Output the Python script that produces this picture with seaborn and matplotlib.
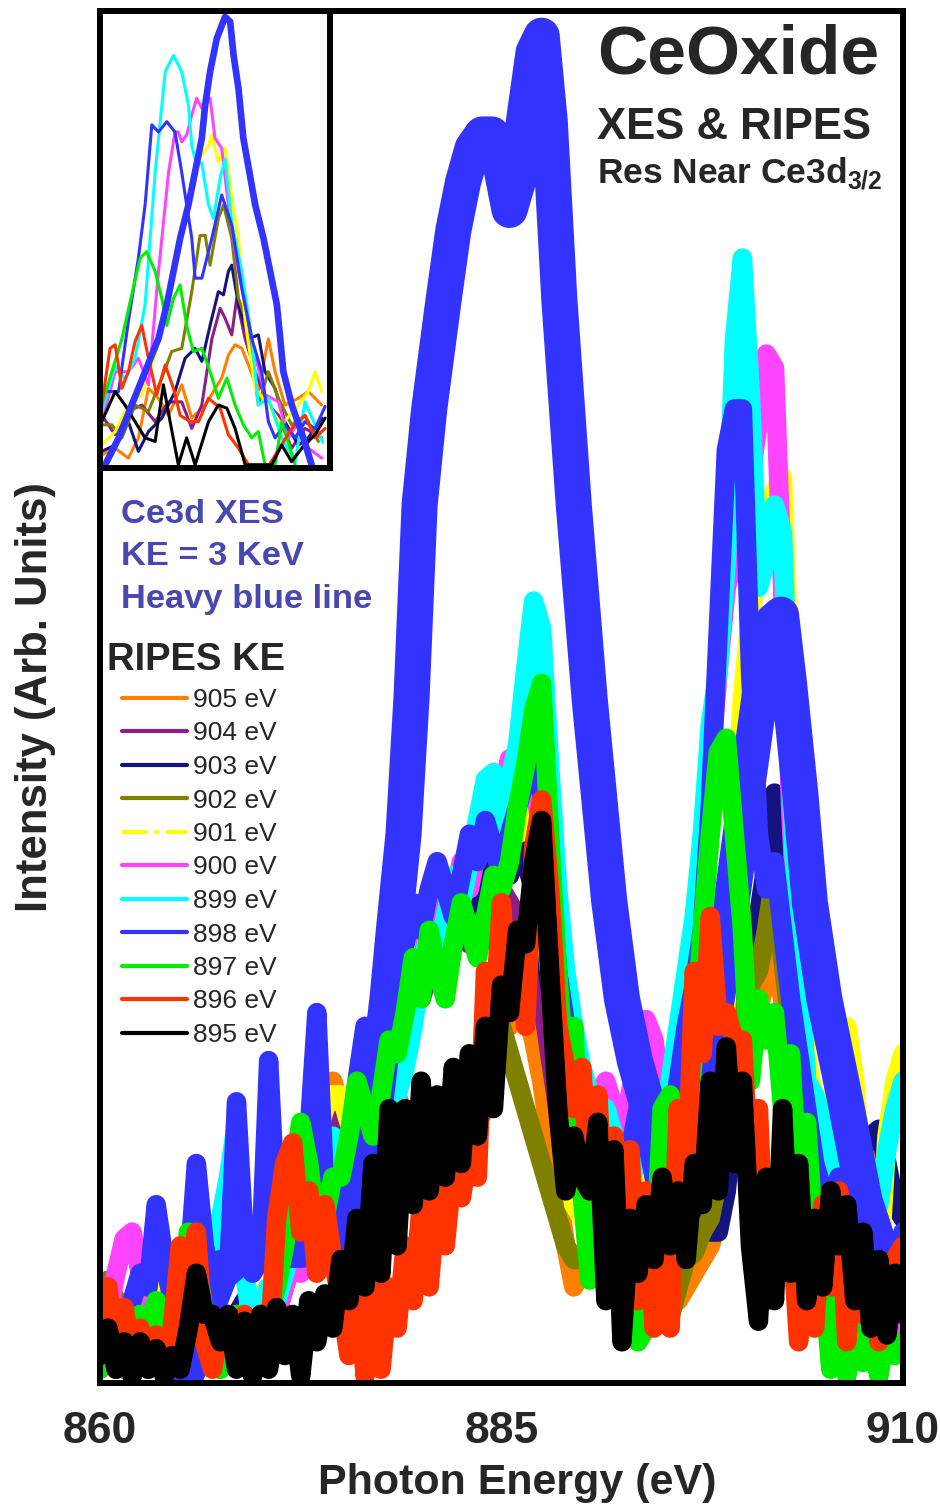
import numpy as np
import matplotlib
matplotlib.use("Agg")
import matplotlib.pyplot as plt
import seaborn as sns
from matplotlib.lines import Line2D

# ---------------- data ----------------
energy = np.arange(860, 910.01, 0.5)  # photon energy grid (eV), 101 points

ripes_895 = [2, 4, 1, 3, 0.5, 3, 1, 2.5, 0.5, 2,
             1, 4, 8, 5, 5, 3, 5, 1, 4.5, 0.5,
             5, 1, 5.5, 2, 5, 0.5, 6, 3, 6.5, 4,
             9, 6, 12, 7, 16, 8, 20, 10, 20, 13,
             22, 14, 21, 15, 23, 16, 24, 18, 26, 20,
             29, 27, 33, 32, 38, 41, 30, 20, 14, 18,
             15, 14, 19, 6, 17, 3, 12, 8, 13, 9,
             15, 10, 14, 9, 16, 13, 22, 14, 24.5, 16,
             22, 10, 4.5, 15, 6, 20, 8, 16, 6, 12,
             7, 14, 10, 13, 6, 11, 4, 9, 3.5, 8,
             5]
ripes_896 = [3, 7, 1, 5.5, 2, 4, 1, 3.5, 0.5, 4,
             10, 6, 11, 3, 1, 4, 4, 2, 5, 1,
             5, 2, 12, 16, 17.5, 11, 14, 8, 13, 9,
             6, 2, 9, 0.5, 8, 1, 7, 4, 10, 6,
             13, 7, 14, 10, 16, 13.5, 17, 15, 30, 26,
             35, 27, 33, 26, 39, 42.5, 36, 26, 23, 20,
             23, 14, 21, 10, 18, 12, 17, 6, 14, 4,
             10, 4, 20, 14, 30, 24, 34, 26, 27, 25,
             25, 14, 20, 6, 15, 8, 12, 3, 9, 4,
             13, 7, 14, 3, 10, 5, 8, 3, 7, 9,
             10]
ripes_897 = [1, 3, 2, 1, 3, 5, 4, 6, 5, 3,
             6, 11, 9, 5, 3, 1, 3, 5, 4, 2,
             3, 5, 7, 10, 15, 19, 16, 11, 12, 15,
             15, 18, 22, 20, 18, 21, 25, 24, 27, 31,
             28, 33, 30, 28, 32, 35, 33, 31, 34, 37,
             36, 38, 42, 45, 49, 51, 40, 30, 22, 26,
             14, 7.5, 16, 12, 9, 6, 8, 3, 4, 8,
             20, 21, 12, 16, 25, 33, 40, 46, 47, 40,
             33, 22, 28, 25, 27, 20, 24, 14, 19, 10,
             8, 1, 6, 0.5, 5, 1.5, 3, 0.5, 4, 2,
             3]
ripes_898 = [4, 3, 5, 4, 6, 8, 7, 13, 9, 6,
             5, 8, 16, 10, 7, 9, 8, 20.5, 10, 8,
             9, 23.5, 12, 9, 10, 14, 18, 27, 14, 11,
             14, 17, 22, 26, 24, 28, 33, 30, 32, 35,
             33, 36, 38, 36, 34, 37, 40, 38, 41, 39,
             37, 40, 42, 44, 45, 43, 37, 30, 26, 24,
             20, 17, 15, 18, 16, 14, 17, 20, 18, 15,
             14, 18, 22, 26, 29, 33, 42, 55, 68, 71,
             71, 52, 40, 36, 38, 33, 28, 24, 20, 16,
             14, 12, 15, 13, 10, 9, 11, 12, 10, 9,
             11]
ripes_899 = [5, 4, 2, 3, 5, 4, 2, 3, 4, 3,
             2, 4, 5, 6, 8, 12, 15, 19, 8, 4,
             5, 7, 6, 8, 10, 12, 14, 15, 16, 18,
             12, 14, 13, 15, 17, 16, 19, 21, 23, 26,
             30, 33, 31, 34, 37, 35, 38, 41, 44, 44.5,
             40, 44, 46.5, 52, 57, 55, 45, 36, 30, 26,
             23, 21, 19, 20, 18, 16, 15, 16, 18, 17,
             19, 22, 26, 30, 34, 40, 48, 52, 60, 76,
             82, 72, 58, 60, 64, 62, 45, 30, 22, 21,
             19, 17, 14, 12, 13, 12, 11, 13, 17, 20,
             22]
ripes_900 = [3, 5, 8, 10.5, 11, 8, 4, 3, 4, 6,
             5, 4, 5, 7, 5, 3, 2, 3, 3, 4,
             5, 6, 5, 7, 9, 8, 10, 12, 11, 13,
             16, 15, 18, 21, 20, 23, 26, 25, 28, 31,
             30, 34, 36, 33, 35, 38, 36, 39, 41, 39,
             43, 45.5, 43, 45, 44, 40, 34, 28, 24, 22,
             20, 19, 21, 22, 20, 18, 21, 24, 26.5, 25,
             20, 18, 22, 27, 32, 38, 45, 52, 58, 60,
             62, 66, 70, 75, 74, 58, 42, 30, 22, 18,
             14, 10, 7, 9, 12, 10, 8, 6, 5, 4,
             6]
ripes_901 = [2, 4, 3, 5, 6, 7.5, 8, 6, 4, 5,
             6, 4, 3, 5, 6, 4, 3, 4, 5, 6,
             6, 7, 8, 9, 11, 13, 15, 18, 20, 21,
             21, 19, 22, 25, 24, 27, 29, 28, 30, 32,
             31, 33, 35, 34, 36, 38, 37, 39, 41, 40,
             42, 41, 40, 42, 40, 36, 30, 24, 18, 13,
             12, 14, 12, 10, 9, 11, 13, 15, 14, 12,
             11, 9, 10, 12, 14, 16, 17, 20, 28, 40,
             50, 56, 60, 63, 65, 66, 50, 30, 24, 20,
             18, 20, 24, 26, 22, 14, 3, 8, 18, 22,
             24]
ripes_902 = [5, 7.5, 6, 4, 3, 5, 6, 4, 3, 2,
             4, 6, 7, 5, 4, 3, 2, 3, 2.5, 2,
             2, 3, 5, 7, 9, 11, 12, 14, 15, 16,
             17, 18, 17, 18, 19, 18, 19, 20, 19, 18,
             18, 19, 20, 19, 21, 22, 21, 23, 24, 25,
             26, 24, 22, 20, 18, 16, 14, 12, 10, 9,
             9, 10, 11, 10, 9, 9, 8, 7, 7, 6,
             5, 4.8, 7, 9, 9.5, 11, 12, 15, 20, 24,
             27, 29, 30, 33, 37, 31, 26, 22, 19, 16,
             14, 12, 11, 10, 9, 8, 7, 6, 5, 4,
             5]
ripes_903 = [2, 3, 4, 3, 2, 4, 5, 3, 2, 4,
             5, 4, 3, 5, 6, 5, 4, 5, 6, 5,
             6, 7, 6, 8, 10, 11, 13, 15, 16, 18,
             17, 18, 19, 21, 23, 25, 27, 28, 30, 32,
             31, 33, 35, 33, 32, 34, 36, 35, 37, 39,
             38, 37, 39, 38, 36, 33, 29, 25, 21, 19,
             18, 17, 19, 18, 17, 19, 20, 21, 22, 23,
             23, 18, 14, 12, 11, 12, 11, 11, 14, 20,
             26, 30, 34, 38, 43, 36, 26, 20, 17, 15,
             14, 13, 14, 15, 16, 17, 18, 18.5, 16, 13,
             12]
ripes_904 = [3, 2, 4, 5, 4, 3, 4, 5, 6, 5,
             4, 5, 6, 5, 4, 3, 2, 3, 4, 5,
             6, 7, 6, 8, 10, 11, 12, 14, 15, 17,
             20, 19, 21, 23, 22, 24, 26, 25, 27, 29,
             28, 30, 31, 30, 32, 33, 32, 34, 35, 34,
             36, 35, 34, 33, 31, 28, 24, 20, 17, 15,
             14, 15, 16, 15, 14, 15, 16, 17, 18, 17,
             15, 13, 12, 13, 14, 16, 18, 21, 24, 27,
             29, 31, 33, 35, 37, 34, 27, 21, 17, 14,
             12, 10, 8, 7, 8, 9, 8, 7, 6, 7,
             8]
ripes_905 = [1, 3, 4, 3, 2, 4, 7, 9, 6, 3,
             2, 4, 5, 3, 2, 1, 2, 1.5, 3, 4,
             5, 6, 8, 10, 13, 15, 18, 21, 20, 22,
             20, 18, 17, 19, 18, 20, 22, 21, 19, 16,
             18, 17, 16, 18, 19, 18, 17, 19, 20, 22,
             27, 26, 28, 27, 25, 22, 18, 14, 10, 7,
             8, 10, 12, 11, 9, 8, 10, 12, 11, 9,
             8, 7, 6, 7, 8, 9, 10, 12, 15, 18,
             21, 24, 27, 30, 31, 28, 24, 20, 17, 15,
             14, 16, 17, 18, 18.5, 18, 16, 12, 9, 7,
             6]

# heavy blue Ce3d XES line (KE = 3 keV)
xes_energy = [864.5, 865.5, 866.5, 867.5, 868.5, 869.5, 870.5, 871.5, 872.5, 873.5,
              874.5, 875.5, 876.2, 876.8, 877.3, 877.9, 878.3, 878.9, 879.4, 879.9,
              880.5, 881.4, 882.0, 882.6, 883.2, 883.8, 884.4, 885.0, 885.5, 886.0,
              886.4, 887.0, 887.5, 888.0, 888.6, 889.5, 890.5, 891.7, 892.5, 893.3,
              894.0, 894.8, 895.6, 896.5, 897.5, 898.4, 899.2, 899.9, 900.6, 901.3,
              901.9, 902.4, 902.9, 903.6, 904.2, 905.1, 906.4, 907.6, 908.6, 909.6,
              910.3]
xes_int = [-2, 1, 5, 8, 9, 9.5, 9.7, 9.7, 9.7, 9.8,
           10, 10.5, 12, 17, 22, 28, 33, 40, 50, 64,
           71, 79, 84, 87.5, 90, 91, 91, 88.5, 85.5, 87.5,
           92, 97, 98.2, 92, 79, 64, 49.7, 35.2, 28, 23.5,
           20.6, 18, 17, 18, 22, 28, 34, 40, 46, 52,
           55.5, 56, 51, 43, 35, 28, 20.6, 13.3, 9.7, 7,
           6]

ke_labels = ["905", "904", "903", "902", "901", "900", "899", "898", "897", "896", "895"]
ke_colors = ["#FF8000", "#8B1E88", "#141480", "#808000", "#FFFF00", "#FF44FF",
             "#00FFFF", "#3333FF", "#00EE00", "#FF3300", "#000000"]
ripes_series = [ripes_905, ripes_904, ripes_903, ripes_902, ripes_901, ripes_900,
                ripes_899, ripes_898, ripes_897, ripes_896, ripes_895]
xes_color = "#3333FF"
text_blue = "#4848AE"

# inset spectra (inset coordinates, 0-100 both ways)
ins_xes_x = [1.5, 7.5, 13.4, 19.4, 25.4, 29.1, 32.1, 35.1, 38.8, 41.8, 44.8, 46.3, 48.5, 51.5, 55.2,
             57.5, 59, 61.2, 63.4, 68.7, 72.4, 75.4, 78.4, 79.9, 81.3, 85.1, 90.3, 94]
ins_xes_y = [0, 5.9, 13.3, 20.7, 28.1, 35.6, 43, 50.4, 57.8, 65.2, 72.6, 80, 87.4, 94.8, 99.6,
             98.5, 91.1, 83.7, 72.6, 57.8, 50.4, 43, 35.6, 28.1, 20.7, 13.3, 5.9, 0]
ins_898_x = [0, 7.5, 11.9, 16.4, 19.4, 22.4, 25.4, 29.1, 32.8, 35.8, 40.3, 41.8, 44.8, 49.3, 53.7,
             58.2, 62.7, 67.2, 71.6, 74.6, 77.6, 82, 86.6, 91, 95.5, 100]
ins_898_y = [16.3, 16.3, 31.9, 46, 57.8, 75.6, 74, 76.3, 74, 65, 50.4, 41.5, 41.5, 50.4, 60,
             53.3, 39.3, 28, 20.7, 9.6, 6, 8.9, 6, 9.6, 8, 13]
ins_899_x = [0, 6, 10.4, 14.9, 19.4, 23.9, 28.4, 32.1, 35.8, 38.8, 40.3, 41.8, 44.8, 47.8, 50,
             53, 55.2, 58.2, 62.7, 67.2, 70.1, 74.6, 80.6, 86.6, 91, 95.5, 99]
ins_899_y = [11.9, 22, 19, 23.7, 35.6, 65, 87.4, 91, 87.4, 80, 71, 68, 67, 57.8, 54.8,
             63.7, 68, 54, 43, 28, 13.3, 14.8, 6, 0.7, 14, 8.9, 5]
ins_900_x = [0, 6, 11.9, 16.4, 20.9, 25.4, 29.9, 32.8, 34.3, 35.8, 38, 40.3, 42.5, 44.8, 48.5,
             50.7, 53.7, 56.7, 61.2, 64.2, 68.7, 73.1, 79.1, 83.6, 88, 92.5, 98.5]
ins_900_y = [9.6, 20.7, 20.7, 23.7, 17.8, 43, 65, 74, 74, 71.8, 73.3, 77.8, 81.5, 79.3, 81.5,
             72.6, 70.4, 57.8, 43, 35.6, 24.4, 15.6, 14, 6, 9.6, 3.7, 1.5]
ins_901_x = [0, 6, 11.9, 17.9, 23.9, 29.9, 35.8, 40.3, 43.3, 47.8, 49.3, 52.2, 55.2, 58.2, 61.2,
             64.2, 68.7, 74.6, 80.6, 88, 92.5, 95.5, 98.5]
ins_901_y = [4.4, 7.4, 13.3, 15.6, 24.4, 37.8, 50.4, 61.5, 68, 71, 73.3, 67.4, 70.4, 59.3, 50.4,
             31.9, 17, 13.3, 8.9, 13.3, 16.3, 20.7, 16.3]
ins_902_x = [0, 4.5, 9, 14.9, 20.9, 26.9, 31.3, 35.8, 40.3, 44, 46.3, 48.5, 52.2, 54.5, 58.2,
             61.2, 65.7, 70.1, 74.6, 79.1, 85, 91, 97]
ins_902_y = [8.9, 8.9, 6, 13.3, 11.9, 19.3, 25.2, 25.9, 38.5, 51, 51, 44.4, 54.8, 57.8, 50.4,
             37, 31, 13.3, 20.7, 14.8, 8.9, 11, 5.2]
ins_897_x = [0, 4.5, 9, 13.4, 17.2, 20.1, 23.9, 26.9, 29.1, 32.1, 35.1, 38, 41, 44.8, 48.5,
             52.2, 56, 59.7, 63.4, 67.2, 70.1, 73.1, 77.6, 80.6, 86.6]
ins_897_y = [13.3, 20.7, 28, 37.8, 46, 47.4, 43, 37, 31, 37, 40, 31, 25.2, 25.9, 20.7,
             14.8, 19.3, 13.3, 8.9, 6, 7.4, 0, 0, 9.6, 0]
ins_903_x = [0, 6, 11.9, 16.4, 20.9, 26.9, 32.8, 37.3, 41.8, 44.8, 48.5, 52.2, 54.5, 56.7, 58.2,
             61.2, 65.7, 70.1, 73.1, 77.6, 82, 88, 92.5, 98.5]
ins_903_y = [3, 4.4, 9.6, 3, 7.4, 10.4, 16.3, 23.7, 25.9, 23, 31, 38.5, 37.8, 43, 44.4,
             35.6, 28, 28.9, 20.7, 17, 9.6, 4.4, 6, 10.4]
ins_904_x = [0, 6, 11.9, 17.9, 23.9, 29.9, 35.8, 40.3, 44.8, 49.3, 53, 55.2, 58.2, 60.4, 64.2,
             68.7, 74.6, 79.1, 85, 91, 98.5]
ins_904_y = [11, 6.7, 11.9, 13.3, 9.6, 14, 14, 8.1, 13.3, 28, 34.8, 32.6, 28.9, 37, 28,
             20.7, 13.3, 11, 3.7, 8.1, 6]
ins_905_x = [0, 6, 11.9, 16.4, 20.9, 25.4, 29.9, 35.8, 40.3, 46.3, 53.7, 56.7, 59.7, 62.7, 65.7,
             70.1, 74.6, 77.6, 82, 88, 92.5, 98.5]
ins_905_y = [2.2, 3.7, 1.5, 6, 17, 14.8, 11, 17.8, 10.4, 13.3, 19.3, 24.4, 26.7, 25.9, 22.2,
             16.3, 28, 20.7, 13.3, 14.8, 16.3, 13.3]
ins_896_x = [0, 3.7, 6, 9, 11.9, 14.9, 17.9, 20.9, 24.6, 28.4, 32.1, 35.1, 39.6, 43.3, 47.8,
             53, 56.7, 61.2, 65.7, 75, 85, 91, 95.5, 100]
ins_896_y = [13.3, 25.9, 26.7, 17, 20.7, 27.4, 31, 23.7, 15.6, 22.2, 17, 11, 9.6, 9.6, 14.8,
             12.6, 6.7, 3.7, 0, 0, 8.1, 11, 6, 8.1]
ins_895_x = [0, 6, 10.4, 14.9, 19.4, 23.9, 27.6, 30.6, 34.3, 38, 41.8, 47.8, 52.2, 56, 59.7,
             64.2, 76.1, 80.6, 85, 89.6, 95.5, 100]
ins_895_y = [9.6, 16.3, 13.3, 9.6, 6, 5.2, 17.8, 9.6, 0, 6, 0, 9.6, 13.3, 12.6, 8.1,
             0, 0, 4.4, 0.7, 3.7, 6.7, 10.4]

inset_x = [ins_905_x, ins_904_x, ins_903_x, ins_902_x, ins_901_x, ins_900_x,
           ins_899_x, ins_898_x, ins_897_x, ins_896_x, ins_895_x]
inset_y = [ins_905_y, ins_904_y, ins_903_y, ins_902_y, ins_901_y, ins_900_y,
           ins_899_y, ins_898_y, ins_897_y, ins_896_y, ins_895_y]

xticks = [860, 885, 910]

# ---------------- style ----------------
sns.set_style("white")
plt.rcParams["font.family"] = ["Liberation Sans", "DejaVu Sans"]
plt.rcParams["mathtext.fontset"] = "custom"
plt.rcParams["mathtext.rm"] = "Liberation Sans"
plt.rcParams["mathtext.bf"] = "Liberation Sans:bold"

W, H = 940, 1507
fig = plt.figure(figsize=(W / 100, H / 100), dpi=100)


def fx(px):
    return px / W


def fy(py):
    return 1 - py / H


ax = fig.add_axes([fx(100), fy(1383), (903 - 100) / W, (1383 - 11) / H])

RIPES_LW = 14
for vals, col in zip(ripes_series[:7], ke_colors[:7]):
    sns.lineplot(x=energy, y=vals, ax=ax, color=col, linewidth=RIPES_LW,
                 solid_capstyle="round", solid_joinstyle="round", legend=False)
sns.lineplot(x=xes_energy, y=xes_int, ax=ax, color=xes_color, linewidth=26,
             solid_capstyle="round", solid_joinstyle="round", legend=False, sort=False)
for vals, col in zip(ripes_series[7:], ke_colors[7:]):
    sns.lineplot(x=energy, y=vals, ax=ax, color=col, linewidth=RIPES_LW,
                 solid_capstyle="round", solid_joinstyle="round", legend=False)

ax.set_xlim(860, 910)
ax.set_ylim(0, 100)
ax.set_xticks(xticks)
ax.set_xticklabels([str(t) for t in xticks], fontsize=32, fontweight="bold")
ax.set_yticks([])
ax.tick_params(axis="x", length=0, pad=20)
for sp in ax.spines.values():
    sp.set_linewidth(4.3)
    sp.set_color("black")
    sp.set_visible(True)
ax.set_xlabel("Photon Energy (eV)", fontsize=31, fontweight="bold")
ax.xaxis.set_label_coords(0.52, -0.058)
ax.set_ylabel("Intensity (Arb. Units)", fontsize=31.5, fontweight="bold")
ax.yaxis.set_label_coords(-0.055, 0.5)

# legend
handles = []
for lab, col in zip(ke_labels, ke_colors):
    if lab == "901":
        h = Line2D([0], [0], color=col, lw=3, linestyle=(0, (6, 1.8, 1, 1.8)))
    else:
        h = Line2D([0], [0], color=col, lw=3)
    handles.append(h)
leg = ax.legend(handles, [f"{l} eV" for l in ke_labels], loc="upper left",
                bbox_to_anchor=(fx(122), fy(688)), bbox_transform=fig.transFigure,
                frameon=False, fontsize=19, handlelength=2.46, handletextpad=0.23,
                labelspacing=0.36, borderpad=0, borderaxespad=0)

# texts
fig.text(fx(597), fy(73), "CeOxide", fontsize=50, fontweight="bold", ha="left", va="baseline")
fig.text(fx(597), fy(139), "XES & RIPES", fontsize=31.5, fontweight="bold", ha="left", va="baseline")
fig.text(fx(597), fy(183), r"Res Near Ce3d$_{\mathbf{3/2}}$", fontsize=25.5, fontweight="bold",
         ha="left", va="baseline")
for txt, base in [("Ce3d XES", 523), ("KE = 3 KeV", 565), ("Heavy blue line", 608)]:
    fig.text(fx(121), fy(base), txt, fontsize=24.8, fontweight="bold", color=text_blue,
             ha="left", va="baseline")
fig.text(fx(107), fy(670), "RIPES KE", fontsize=27.5, fontweight="bold", ha="left", va="baseline")

# inset
axi = fig.add_axes([fx(100), fy(468), (330 - 100) / W, (468 - 11) / H])
axi.set_facecolor("white")
for xs, ys, col in zip(inset_x, inset_y, ke_colors):
    sns.lineplot(x=xs, y=ys, ax=axi, color=col, linewidth=2.2, legend=False, sort=False)
sns.lineplot(x=ins_xes_x, y=ins_xes_y, ax=axi, color=xes_color, linewidth=4.8,
             legend=False, sort=False)
axi.set_xlim(-0.8, 102.2)
axi.set_ylim(-0.7, 100.9)
axi.set_xticks([])
axi.set_yticks([])
axi.set_xlabel("")
axi.set_ylabel("")
for sp in axi.spines.values():
    sp.set_linewidth(4.3)
    sp.set_color("black")
    sp.set_visible(True)

fig.savefig("out.png", dpi=100)
